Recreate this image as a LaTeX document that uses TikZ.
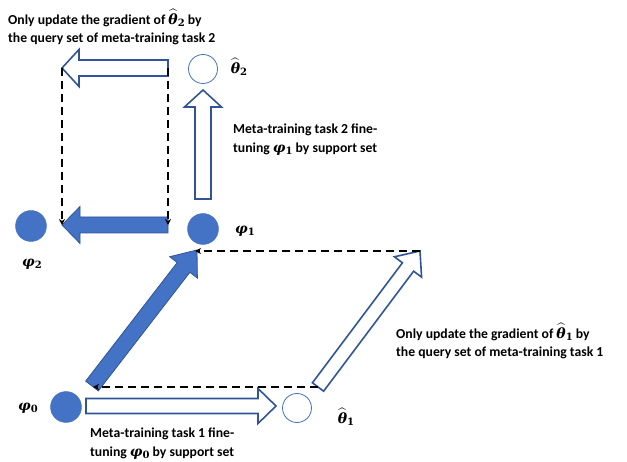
\documentclass[tikz,border=0pt]{standalone}
\usepackage{fontspec}
\setmainfont{Carlito}
\newfontfamily\grk{DejaVu Serif}
\usepackage{amsmath}
\usetikzlibrary{calc,arrows.meta}
\definecolor{fillblue}{HTML}{4472C4}
\definecolor{edgeblue}{HTML}{2F5597}
\newcommand\gsub[1]{\raisebox{-0.35ex}{\fontsize{10}{10}\selectfont\grk\bfseries #1}}
\newcommand\gth[1]{{\fontsize{14}{14}\selectfont\boldmath$\widehat{\hbox{\grk\bfseries\itshape θ}}$\gsub{#1}}}
\newcommand\gph[1]{{\fontsize{14}{14}\selectfont\grk\bfseries\itshape φ\gsub{\upshape #1}}}
% block arrow: [style]{A}{B}{half shaft}{half head}{head length}
\newcommand\blockarrow[6][]{%
  \coordinate (ba-h) at ($(#3)!#6!(#2)$);
  \draw[#1] ($(#2)!#4!90:(#3)$) -- ($(ba-h)!#4!90:(#3)$) -- ($(ba-h)!#5!90:(#3)$)
    -- (#3) -- ($(ba-h)!#5!-90:(#3)$) -- ($(ba-h)!#4!-90:(#3)$) -- ($(#2)!#4!-90:(#3)$) -- cycle;}
\tikzset{
  fullnode/.style={circle, inner sep=0pt, minimum size=31pt, fill=fillblue, draw=fillblue},
  emptynode/.style={circle, inner sep=0pt, minimum size=29pt, fill=white, draw=fillblue, line width=0.8pt},
  hollowarrow/.style={draw=edgeblue, fill=white, line width=1.6pt, line join=miter},
  solidarrow/.style={draw=edgeblue, fill=fillblue, line width=0.8pt, line join=miter},
  dashline/.style={draw=black, line width=1.6pt, dash pattern=on 8pt off 5pt, -{Stealth[length=6pt,width=6pt]}},
  txt/.style={font=\fontsize{13.7}{18.5}\selectfont\bfseries, align=left, inner sep=0pt},
  lbl/.style={inner sep=0pt}
}
\begin{document}
\begin{tikzpicture}[x=1pt,y=-1pt]
\useasboundingbox (0,0) rectangle (627,462);
% circles
\node[fullnode]  (p0) at (66,407) {};
\node[emptynode] (t1) at (297,408) {};
\node[fullnode]  (p1) at (203,229) {};
\node[fullnode]  (p2) at (31,226) {};
\node[emptynode] (t2) at (203,69) {};
% arrow end points
\coordinate (a1s) at (86,406);  \coordinate (a1e) at (276,406);
\coordinate (a2s) at (203,199); \coordinate (a2e) at (203,90);
\coordinate (a3s) at (168,68);  \coordinate (a3e) at (62,68);
\coordinate (a4s) at (168,225); \coordinate (a4e) at (62,225);
\coordinate (a5s) at (92,386);  \coordinate (a5e) at (197,250);
\coordinate (a6s) at (318,387); \coordinate (a6e) at (420,251);
\coordinate (d1e) at (93,387);
\coordinate (d2e) at (195,251);
% block arrows
\blockarrow[hollowarrow]{a1s}{a1e}{7.5pt}{17.5pt}{18pt}
\blockarrow[hollowarrow]{a2s}{a2e}{8pt}{18.5pt}{17pt}
\blockarrow[hollowarrow]{a3s}{a3e}{8pt}{18.5pt}{17pt}
\blockarrow[solidarrow]{a4s}{a4e}{8pt}{18.5pt}{18pt}
\blockarrow[solidarrow]{a5s}{a5e}{8pt}{17.5pt}{22pt}
\blockarrow[hollowarrow]{a6s}{a6e}{7pt}{17pt}{20pt}
% dashed connectors
\draw[dashline] (a6s) -- (d1e);
\draw[dashline] (a6e) -- (d2e);
\draw[dashline] (a3e) -- (a4e);
\draw[dashline] (a3s) -- (a4s);
% labels
\node[lbl] (lt2) at (239,67) {\gth{2}};
\node[lbl] (lp1) at (245,231) {\gph{1}};
\node[lbl] (lp2) at (32,264) {\gph{2}};
\node[lbl] (lp0) at (28,408) {\gph{0}};
\node[lbl] (lt1) at (346,417) {\gth{1}};
% texts
\node[txt, anchor=north west] (x1) at (8,9) {Only update the gradient of \gth{2} by\\the query set of meta-training task 2};
\node[txt, anchor=north west] (x2) at (233,124) {Meta-training task 2 fine-\\tuning \gph{1} by support set};
\node[txt, anchor=north west] (x3) at (396,323) {Only update the gradient of \gth{1} by\\the query set of meta-training task 1};
\node[txt, anchor=north west] (x4) at (90,428) {Meta-training task 1 fine-\\tuning \gph{0} by support set};
\end{tikzpicture}
\end{document}
